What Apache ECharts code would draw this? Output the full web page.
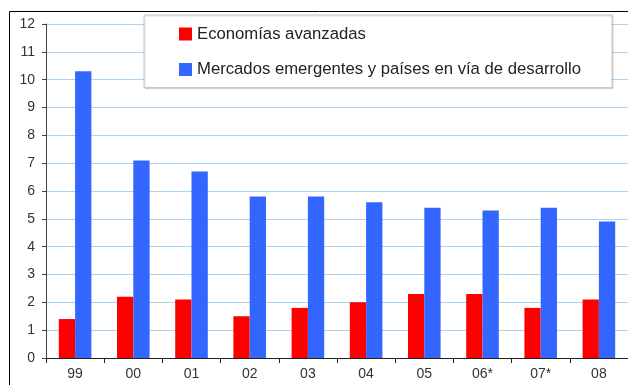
<!DOCTYPE html>
<html>
<head>
<meta charset="utf-8">
<style>
  html, body { margin: 0; padding: 0; background: #fff; }
  #chart { width: 628px; height: 385px; }
</style>
<script src="https://cdn.jsdelivr.net/npm/echarts@6/dist/echarts.min.js"></script>
</head>
<body>
<div id="chart"></div>
<script>
// Years (asterisk marks estimates)
const years = ['99', '00', '01', '02', '03', '04', '05', '06*', '07*', '08'];
// Series values, per cent
const advanced = [1.4, 2.2, 2.1, 1.5, 1.8, 2.0, 2.3, 2.3, 1.8, 2.1];
const emerging = [10.3, 7.1, 6.7, 5.8, 5.8, 5.6, 5.4, 5.3, 5.4, 4.9];
const seriesNames = ['Economías avanzadas', 'Mercados emergentes y países en vía de desarrollo'];
const yTicks = { min: 0, max: 12, interval: 1 };

const FONT = '"Liberation Sans Narrow", "Arial Narrow", "Liberation Sans", Arial, sans-serif';

const chart = echarts.init(document.getElementById('chart'), null, { renderer: 'canvas' });
chart.setOption({
  animation: false,
  backgroundColor: '#fff',
  graphic: [{
    type: 'rect',
    shape: { x: 9.5, y: 11.5, width: 700, height: 500 },
    style: { fill: 'none', stroke: '#000', lineWidth: 1 },
    z: -1
  }],
  legend: {
    orient: 'vertical',
    left: 144,
    top: 15,
    padding: [9, 31, 8, 35],
    itemGap: 15.5,
    itemWidth: 13,
    itemHeight: 13,
    icon: 'rect',
    backgroundColor: '#fff',
    borderColor: '#c8c8c8',
    borderWidth: 1,
    shadowColor: 'rgba(0,0,0,0.15)',
    shadowBlur: 1,
    shadowOffsetX: 1,
    shadowOffsetY: 1,
    textStyle: { fontFamily: FONT, fontSize: 16.7, color: '#222', lineHeight: 20 },
    data: seriesNames
  },
  grid: { left: 46, top: 24, right: -4, bottom: 27 },
  xAxis: {
    type: 'category',
    data: years,
    axisLine: { lineStyle: { color: '#222', width: 1 } },
    axisTick: { show: true, length: 5, alignWithLabel: false, lineStyle: { color: '#222' } },
    axisLabel: { fontFamily: FONT, fontSize: 14, color: '#333', margin: 9 },
    splitLine: { show: false }
  },
  yAxis: {
    type: 'value',
    min: yTicks.min,
    max: yTicks.max,
    interval: yTicks.interval,
    axisLine: { show: true, lineStyle: { color: '#444', width: 1 } },
    axisTick: { show: true, length: 4, lineStyle: { color: '#444' } },
    axisLabel: { fontFamily: FONT, fontSize: 14, color: '#333', margin: 11 },
    splitLine: { show: true, lineStyle: { color: '#acd2f2', width: 1 } }
  },
  series: [
    {
      name: seriesNames[0],
      type: 'bar',
      data: advanced,
      itemStyle: { color: '#ff0000' },
      barGap: '0%',
      barCategoryGap: '44%'
    },
    {
      name: seriesNames[1],
      type: 'bar',
      data: emerging,
      itemStyle: { color: '#3366ff' },
      barGap: '0%',
      barCategoryGap: '44%'
    }
  ]
});
</script>
</body>
</html>
